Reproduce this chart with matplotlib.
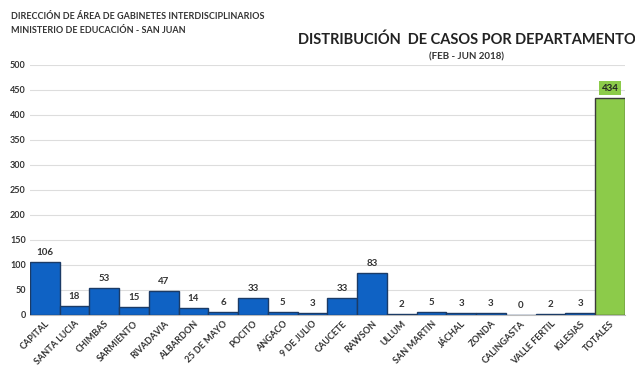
import matplotlib
matplotlib.use('Agg')
import matplotlib.pyplot as plt
import numpy as np

plt.rcParams['font.family'] = ['Lato', 'DejaVu Sans']

# datos del grafico
departamentos = ['CAPITAL', 'SANTA LUCIA', 'CHIMBAS', 'SARMIENTO', 'RIVADAVIA',
                 'ALBARDON', '25 DE MAYO', 'POCITO', 'ANGACO', '9 DE JULIO',
                 'CAUCETE', 'RAWSON', 'ULLUM', 'SAN MARTIN', 'JÁCHAL', 'ZONDA',
                 'CALINGASTA', 'VALLE FERTIL', 'IGLESIAS', 'TOTALES']
casos = [106, 18, 53, 15, 47, 14, 6, 33, 5, 3, 33, 83, 2, 5, 3, 3, 0, 2, 3, 434]
y_ticks = [0, 50, 100, 150, 200, 250, 300, 350, 400, 450, 500]

fig = plt.figure(figsize=(6.35, 3.75), dpi=100)
ax = fig.add_axes([0.047, 0.16, 0.937, 0.667])

x = np.arange(len(departamentos))
colores = ['#0F62C4'] * (len(departamentos) - 1) + ['#8CCB4A']
bordes = ['#1B3B66'] * (len(departamentos) - 1) + ['#3A3A3A']
ax.bar(x, casos, width=1.0, color=colores, edgecolor=bordes, linewidth=1.0, zorder=3)

# etiquetas de valores
for i, v in enumerate(casos):
    if i == len(casos) - 1:
        ax.text(i, v + 10, str(v), ha='center', va='bottom', fontsize=7,
                fontweight='bold', color='#222222',
                bbox=dict(boxstyle='square,pad=0.25', fc='#8CCB4A', ec='none'))
    else:
        ax.text(i, v + 10, str(v), ha='center', va='bottom', fontsize=7,
                fontweight='bold', color='#333333')

ax.set_xlim(-0.5, len(departamentos) - 0.5)
ax.set_ylim(0, 500)
ax.set_yticks(y_ticks)
ax.set_yticklabels([str(t) for t in y_ticks], fontsize=6.5, fontweight='bold', color='#333333')
ax.set_xticks(x)
ax.set_xticklabels(departamentos, rotation=45, ha='right', rotation_mode='anchor',
                   fontsize=6.5, fontweight='bold', color='#333333')
ax.tick_params(axis='both', length=0, pad=3)
ax.yaxis.grid(True, color='#DDDDDD', linewidth=0.8, zorder=0)
for s in ['top', 'right', 'left']:
    ax.spines[s].set_visible(False)
ax.spines['bottom'].set_color('#BBBBBB')

# titulos
fig.text(0.017, 0.955, 'DIRECCIÓN DE ÁREA DE GABINETES INTERDISCIPLINARIOS',
         fontsize=6.5, fontweight='bold', color='#333333', va='center')
fig.text(0.017, 0.918, 'MINISTERIO DE EDUCACIÓN - SAN JUAN',
         fontsize=6.5, fontweight='bold', color='#333333', va='center')
fig.text(0.735, 0.893, 'DISTRIBUCIÓN  DE CASOS POR DEPARTAMENTO',
         fontsize=10.5, fontweight='bold', color='#222222', ha='center', va='center')
fig.text(0.735, 0.848, '(FEB - JUN 2018)',
         fontsize=7, fontweight='bold', color='#333333', ha='center', va='center')

plt.savefig('out.png', dpi=100)
plt.close()
